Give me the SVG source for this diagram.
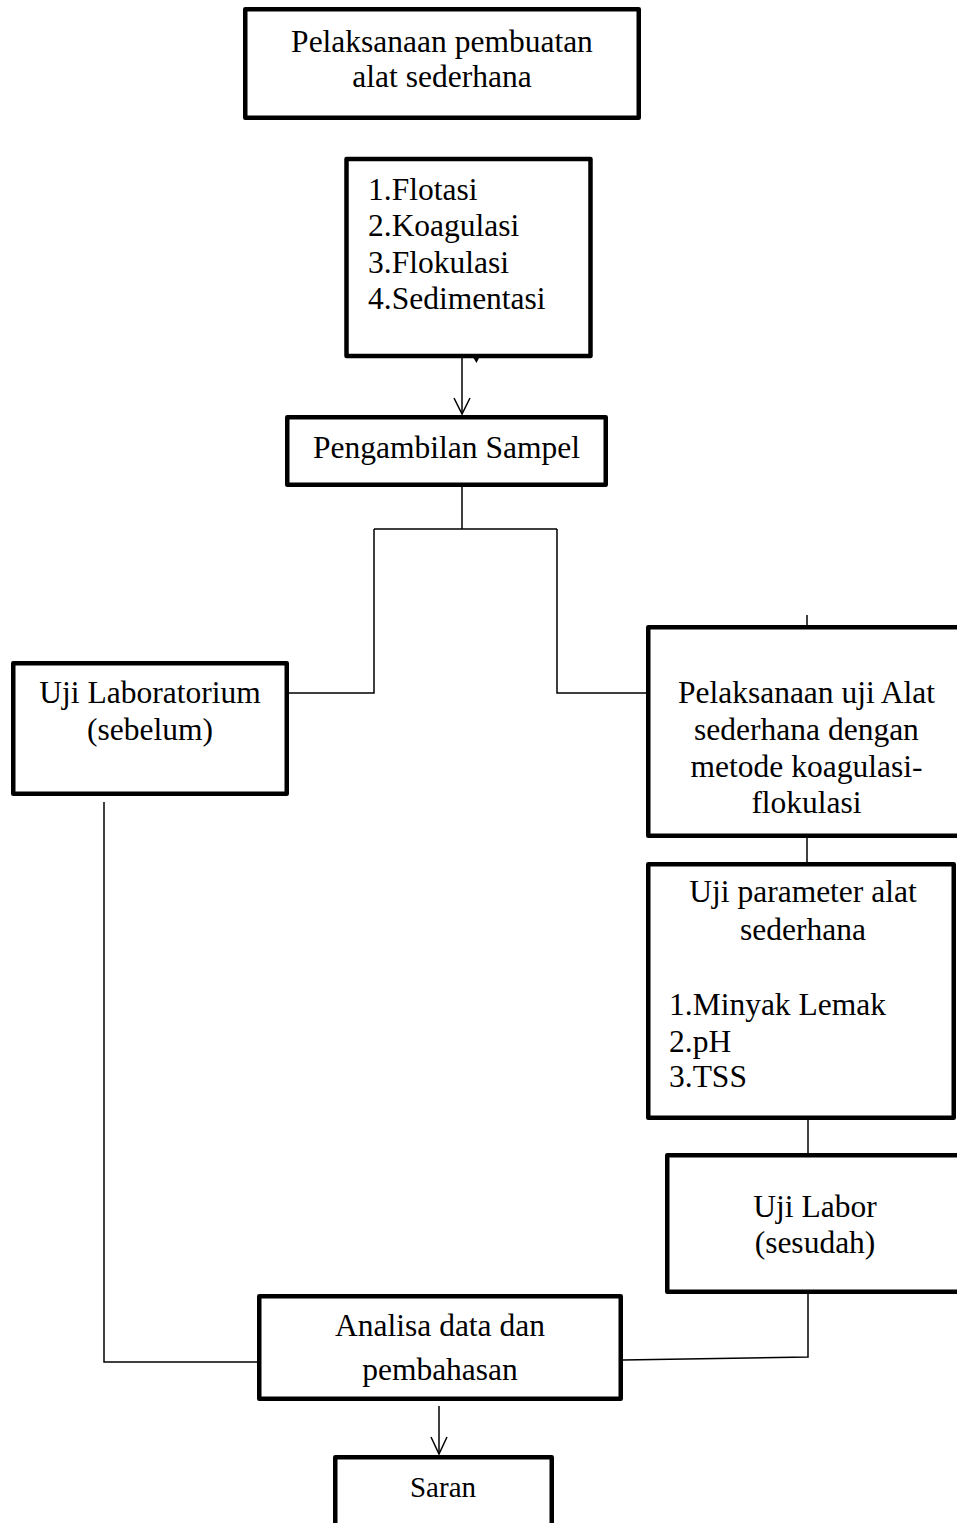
<svg xmlns="http://www.w3.org/2000/svg" width="957" height="1523" viewBox="0 0 957 1523">
<style>
.box{fill:#fff;stroke:#000;stroke-width:4.5;stroke-linejoin:round}
.t{font-family:"Liberation Serif","Times New Roman",serif;font-size:31.5px;fill:#000}
.c{text-anchor:middle}
.ln{fill:none;stroke:#000;stroke-width:1.5}
</style>
<defs>
<marker id="arr" viewBox="0 0 20 20" refX="10" refY="18" markerWidth="20" markerHeight="20" markerUnits="userSpaceOnUse" orient="auto-start-reverse">
<path d="M2 2 L10 18 L18 2" fill="none" stroke="#000" stroke-width="1.5"/>
</marker>
</defs>
<rect width="957" height="1523" fill="#fff"/>
<g id="connectors">
<path class="ln" d="M462 358 V414"/>
<path d="M473.5 358 L479 358 L476.5 363 Z" fill="#000"/>
<path class="ln" d="M462 487 V529 M374 529 H557 M374 529 V693 H289 M557 529 V693 H646"/>
<path class="ln" d="M807 615 V625"/>
<path class="ln" d="M807 838 V862"/>
<path class="ln" d="M808 1120 V1153"/>
<path class="ln" d="M808 1294 V1357 L623 1360"/>
<path class="ln" d="M104 802 V1362 H258"/>
<path class="ln" d="M439 1406 V1454"/>
<path d="M431 1437 L439 1454 L447 1437" fill="none" stroke="#000" stroke-width="1.5"/>
<path d="M454 398 L462 414 L470 398" fill="none" stroke="#000" stroke-width="1.5"/>
</g>
<g id="n1">
<rect class="box" x="245.25" y="9.25" width="393.5" height="108.5"/>
<text class="t c" x="442" y="52">Pelaksanaan pembuatan</text>
<text class="t c" x="442" y="87">alat sederhana</text>
</g>
<g id="n2">
<rect class="box" x="346.5" y="159" width="244" height="197"/>
<text class="t" x="368" y="200">1.Flotasi</text>
<text class="t" x="368" y="236">2.Koagulasi</text>
<text class="t" x="368" y="272.5">3.Flokulasi</text>
<text class="t" x="368" y="309">4.Sedimentasi</text>
</g>
<g id="n3">
<rect class="box" x="287.25" y="417.25" width="318.5" height="67.5"/>
<text class="t c" x="446.5" y="458">Pengambilan Sampel</text>
</g>
<g id="n4">
<rect class="box" x="13.25" y="663.25" width="273.5" height="130.5"/>
<text class="t c" x="150" y="703">Uji Laboratorium</text>
<text class="t c" x="150" y="740">(sebelum)</text>
</g>
<g id="n5">
<rect class="box" x="648.25" y="627.25" width="320" height="208.5"/>
<text class="t c" x="806.5" y="703">Pelaksanaan uji Alat</text>
<text class="t c" x="806.5" y="740">sederhana dengan</text>
<text class="t c" x="806.5" y="777">metode koagulasi-</text>
<text class="t c" x="806.5" y="813">flokulasi</text>
</g>
<g id="n6">
<rect class="box" x="648.25" y="864.25" width="305.5" height="253.5"/>
<text class="t c" x="803" y="902">Uji parameter alat</text>
<text class="t c" x="803" y="940">sederhana</text>
<text class="t" x="669" y="1015">1.Minyak Lemak</text>
<text class="t" x="669" y="1052">2.pH</text>
<text class="t" x="669" y="1087">3.TSS</text>
</g>
<g id="n7">
<rect class="box" x="667.25" y="1155.25" width="300" height="136.5"/>
<text class="t c" x="815" y="1217">Uji Labor</text>
<text class="t c" x="815" y="1253">(sesudah)</text>
</g>
<g id="n8">
<rect class="box" x="259.25" y="1296.25" width="361.5" height="102.5"/>
<text class="t c" x="440" y="1336">Analisa data dan</text>
<text class="t c" x="440" y="1380">pembahasan</text>
</g>
<g id="n9">
<rect class="box" x="335.25" y="1457.25" width="216.5" height="80"/>
<text class="t c" x="443" y="1497" style="font-size:29px">Saran</text>
</g>
</svg>
